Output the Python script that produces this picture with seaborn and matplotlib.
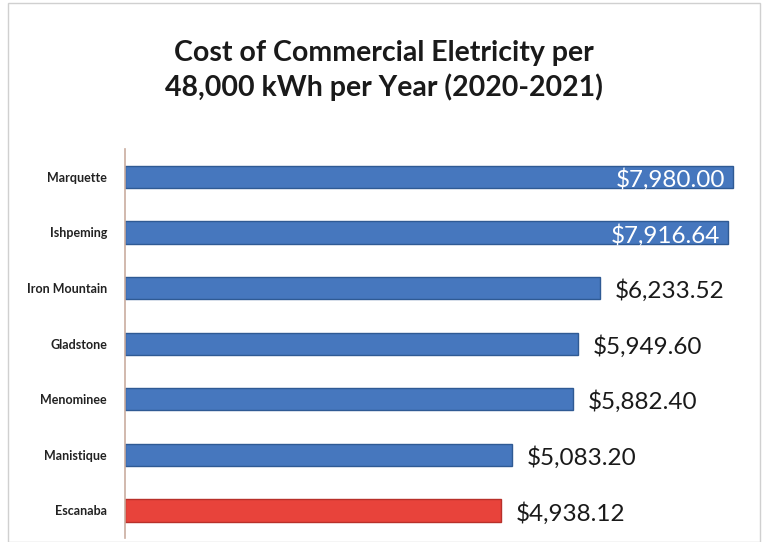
import matplotlib
matplotlib.use("Agg")
import matplotlib.pyplot as plt
import seaborn as sns
import pandas as pd
from matplotlib.patches import Rectangle

cities = ["Marquette", "Ishpeming", "Iron Mountain", "Gladstone", "Menominee", "Manistique", "Escanaba"]
costs = [7980.00, 7916.64, 6233.52, 5949.60, 5882.40, 5083.20, 4938.12]
label_inside = [True, True, False, False, False, False, False]
bar_colors = ["#4677be", "#4677be", "#4677be", "#4677be", "#4677be", "#4677be", "#e8433b"]
edge_colors = ["#2f5a94", "#2f5a94", "#2f5a94", "#2f5a94", "#2f5a94", "#2f5a94", "#b8302a"]
title_text = "Cost of Commercial Eletricity per\n48,000 kWh per Year (2020-2021)"

df = pd.DataFrame({"city": cities, "cost": costs})

sns.set_theme(style="white")
plt.rcParams["font.family"] = ["Lato", "DejaVu Sans"]

fig = plt.figure(figsize=(7.67, 5.42), dpi=100)
ax = fig.add_axes([0.163, 0.007, 0.802, 0.718])

sns.barplot(data=df, y="city", x="cost", hue="city", palette=bar_colors,
            saturation=1, legend=False, ax=ax, width=0.4, linewidth=1.0,
            orient="h")
for p, ec in zip(ax.patches, edge_colors):
    p.set_edgecolor(ec)

ax.set_xlim(0, 8080)
ax.set_ylim(6.5, -0.5)
ax.set_xlabel("")
ax.set_ylabel("")
ax.set_xticks([])
ax.tick_params(axis="y", labelsize=9, length=0, pad=13)
for lab in ax.get_yticklabels():
    lab.set_fontweight("bold")
    lab.set_color("#222222")

for s in ["top", "right", "bottom"]:
    ax.spines[s].set_visible(False)
ax.spines["left"].set_color("#c9ad9f")
ax.spines["left"].set_linewidth(1.2)

for i, (v, inside) in enumerate(zip(costs, label_inside)):
    txt = f"${v:,.2f}"
    if inside:
        ax.text(v - 100, i + 0.05, txt, ha="right", va="center", color="white",
                fontsize=17.5)
    else:
        ax.text(v + 200, i + 0.05, txt, ha="left", va="center", color="#1a1a1a",
                fontsize=17.5)

fig.text(0.5, 0.87, title_text, ha="center", va="center", fontsize=20.5,
         fontweight="bold", color="#1a1a1a", linespacing=1.3)

fig.patches.append(Rectangle((0.011, 0.0), 0.98, 0.995, transform=fig.transFigure,
                             fill=False, edgecolor="#d0d0d0", linewidth=1))

fig.savefig("out.png", dpi=100)
